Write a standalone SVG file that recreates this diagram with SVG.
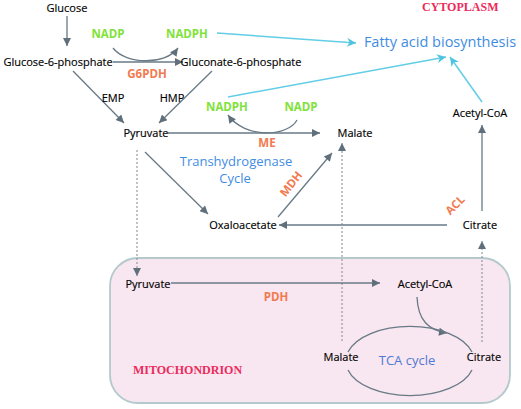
<svg xmlns="http://www.w3.org/2000/svg" width="521" height="409" viewBox="0 0 521 409">
<style>
text{font-family:"Open Sans","Noto Sans","Liberation Sans",sans-serif;}
.lbl{font-size:11px;fill:#000;text-anchor:middle;stroke:#000;stroke-width:0.15;}
.grn{font-size:11.5px;font-weight:bold;fill:#80e23a;text-anchor:middle;}
.org{font-size:11.5px;font-weight:bold;fill:#f27a4f;text-anchor:middle;}
.blu{fill:#3f8de3;text-anchor:middle;}
.reg{font-family:"Liberation Serif","Times New Roman",serif;font-weight:bold;fill:#ec2a5c;font-size:12px;}
.ln{stroke:#687a86;stroke-width:1.3;fill:none;marker-end:url(#ah);}
.dt{stroke:#7d8a92;stroke-width:1;stroke-dasharray:2,2;fill:none;marker-end:url(#ah);}
.cy{stroke:#62cde6;stroke-width:1.5;fill:none;marker-end:url(#ac);}
.pl{stroke:#687a86;stroke-width:1.3;fill:none;}
</style>
<defs>
<marker id="ah" viewBox="0 0 10 10" refX="10" refY="5" markerWidth="10" markerHeight="8" markerUnits="userSpaceOnUse" orient="auto"><path d="M0,0 L10,5 L0,10 z" fill="#5f707c"/></marker>
<marker id="ac" viewBox="0 0 10 10" refX="10" refY="5" markerWidth="11" markerHeight="9" markerUnits="userSpaceOnUse" orient="auto"><path d="M0,0 L10,5 L0,10 L3,5 z" fill="#4fc3e0"/></marker>
</defs>

<g id="mitochondrion">
<rect x="110" y="258" width="400" height="145" rx="28" ry="28" fill="#f8e6f0" stroke="#b4c9cc" stroke-width="1.8"/>
</g>

<g id="connectors">
<line class="ln" x1="67" y1="16" x2="67" y2="46"/>
<line class="ln" x1="113" y1="62" x2="183" y2="62"/>
<path class="ln" d="M113,48 C125,64 165,66 178,48"/>
<line class="ln" x1="73" y1="71" x2="124" y2="123"/>
<line class="ln" x1="212" y1="71" x2="159" y2="123"/>
<line class="ln" x1="168" y1="133" x2="320" y2="133"/>
<path class="ln" d="M297,120 C288,137 245,139 228,115"/>
<line class="ln" x1="145" y1="152" x2="208" y2="214"/>
<line class="ln" x1="278" y1="217" x2="332" y2="153"/>
<line class="ln" x1="447" y1="225" x2="279" y2="225"/>
<line class="ln" x1="482" y1="211" x2="482" y2="125"/>
<line class="dt" x1="137" y1="150" x2="137" y2="276"/>
<line class="dt" x1="342" y1="341" x2="342" y2="143"/>
<line class="dt" x1="482" y1="342" x2="482" y2="241"/>
<line class="cy" x1="217" y1="33" x2="356" y2="43"/>
<line class="cy" x1="228" y1="97" x2="446" y2="57"/>
<line class="cy" x1="482" y1="102" x2="450" y2="57"/>
<line class="ln" x1="171" y1="283" x2="380" y2="283"/>
<path class="ln" d="M417,297 C418,320 428,330 447,333"/>
<path class="pl" d="M348,352 A64 34 0 0 1 472,352"/>
<path class="pl" d="M348,370 A64 34 0 0 0 472,370"/>
</g>

<g id="glucose"><text class="lbl" x="67" y="12">Glucose</text></g>
<g id="g6p"><text class="lbl" x="58" y="66">Glucose-6-phosphate</text></g>
<g id="gluconate"><text class="lbl" x="241" y="66">Gluconate-6-phosphate</text></g>
<g id="nadp1"><text class="grn" x="108" y="38">NADP</text></g>
<g id="nadph1"><text class="grn" x="187" y="38">NADPH</text></g>
<g id="g6pdh"><text class="org" x="147" y="78">G6PDH</text></g>
<g id="emp"><text class="lbl" x="113" y="102">EMP</text></g>
<g id="hmp"><text class="lbl" x="172" y="102">HMP</text></g>
<g id="pyruvate-c"><text class="lbl" x="146" y="137">Pyruvate</text></g>
<g id="malate-c"><text class="lbl" x="355" y="137">Malate</text></g>
<g id="nadph2"><text class="grn" x="227" y="111">NADPH</text></g>
<g id="nadp2"><text class="grn" x="301" y="111">NADP</text></g>
<g id="me"><text class="org" x="267" y="147">ME</text></g>
<g id="transhydrogenase"><text class="blu" font-size="13" x="236" y="166">Transhydrogenase</text><text class="blu" font-size="13" x="235" y="183">Cycle</text></g>
<g id="oxaloacetate"><text class="lbl" x="243" y="229">Oxaloacetate</text></g>
<g id="mdh"><text class="org" x="0" y="0" transform="translate(291,184) rotate(-52)" dy="4">MDH</text></g>
<g id="citrate-c"><text class="lbl" x="480" y="229">Citrate</text></g>
<g id="acl"><text class="org" x="0" y="0" transform="translate(455,205) rotate(-45)" dy="4">ACL</text></g>
<g id="acetylcoa-c"><text class="lbl" x="480" y="117">Acetyl-CoA</text></g>
<g id="fatty"><text class="blu" font-size="14.5" x="440" y="47">Fatty acid biosynthesis</text></g>
<g id="cytoplasm"><text class="reg" x="422" y="11">CYTOPLASM</text></g>
<g id="pyruvate-m"><text class="lbl" x="148" y="288">Pyruvate</text></g>
<g id="pdh"><text class="org" x="276" y="301">PDH</text></g>
<g id="acetylcoa-m"><text class="lbl" x="425" y="288">Acetyl-CoA</text></g>
<g id="malate-m"><text class="lbl" x="341" y="361">Malate</text></g>
<g id="citrate-m"><text class="lbl" x="484" y="361">Citrate</text></g>
<g id="tca"><text font-size="13" fill="#4f7ad3" text-anchor="middle" x="407" y="365">TCA cycle</text></g>
<g id="mito-label"><text class="reg" font-size="12.5" x="133" y="374">MITOCHONDRION</text></g>
</svg>
